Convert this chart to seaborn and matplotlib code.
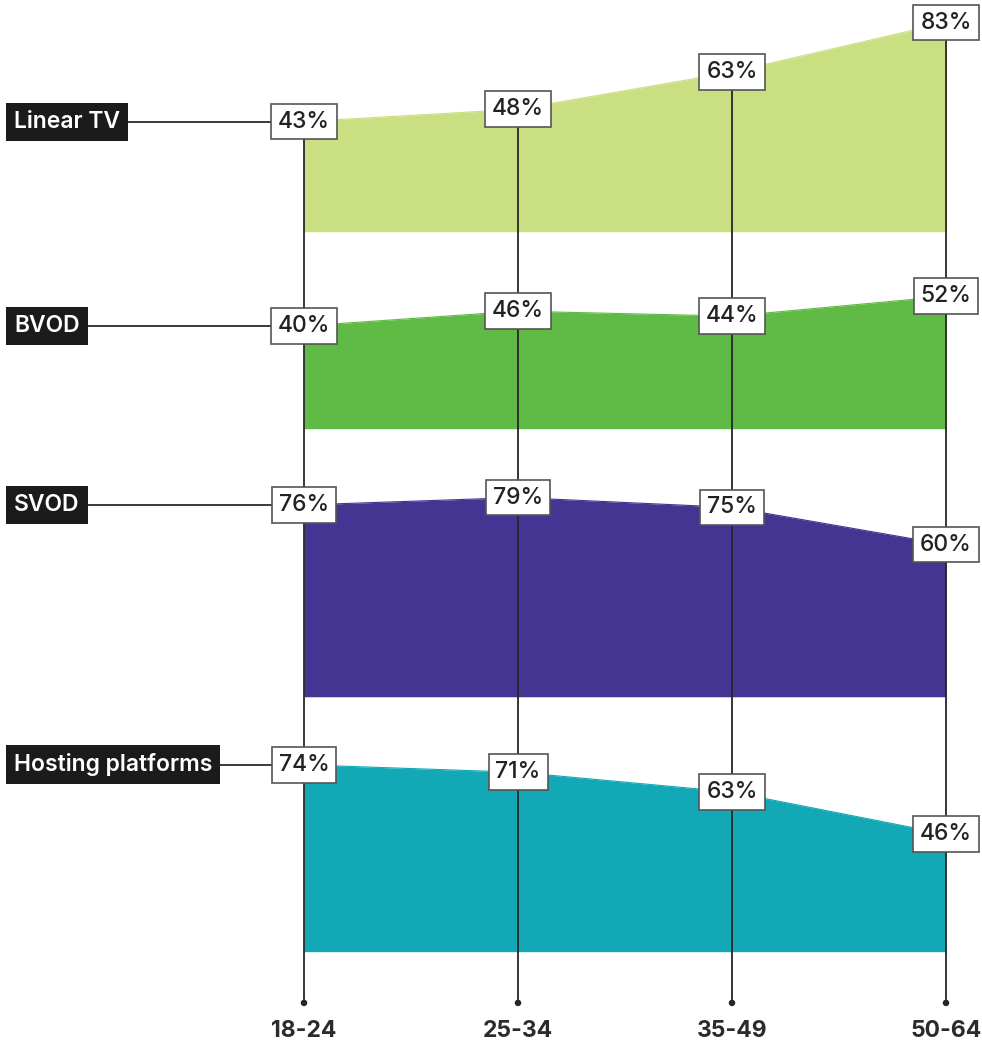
import matplotlib
matplotlib.use("Agg")
import matplotlib.pyplot as plt
import seaborn as sns
import pandas as pd

sns.set_theme(style="white")
plt.rcParams["font.family"] = ["Inter", "DejaVu Sans"]

# Age groups and share of viewers using each service
age_groups = ["18-24", "25-34", "35-49", "50-64"]
services = ["Linear TV", "BVOD", "SVOD", "Hosting platforms"]
linear_tv = [43, 48, 63, 83]
bvod = [40, 46, 44, 52]
svod = [76, 79, 75, 60]
hosting = [74, 71, 63, 46]
colors = ["#cadf82", "#5fba46", "#443592", "#12a8b5"]

series = [linear_tv, bvod, svod, hosting]

# Layout: vertical baseline of each band (in percentage-point units)
band_base = [330.1, 250.5, 142.2, 39.2]
band_pad = 1.5
line_bottom = 17.0
label_y = 5.8

W, H = 982, 1045
fig = plt.figure(figsize=(W / 100, H / 100), dpi=100)
ax = fig.add_axes([0, 0, 1, 1])
px_per_x = 214.0
x0_px = 304.0
px_per_y = 2.475
ax.set_xlim(-x0_px / px_per_x, (W - x0_px) / px_per_x)
ax.set_ylim(0, H / px_per_y)
ax.axis("off")

xs = list(range(len(age_groups)))

rows = []
for name, vals, base in zip(services, series, band_base):
    for i, (g, v) in enumerate(zip(age_groups, vals)):
        rows.append({"service": name, "age": g, "x": i, "value": v, "y": base + v})
df = pd.DataFrame(rows)

# Filled bands
for name, color, base in zip(services, colors, band_base):
    d = df[df.service == name]
    ax.fill_between(d["x"], base - band_pad, d["y"], color=color, lw=0, zorder=1)
    sns.lineplot(data=d, x="x", y="y", color=color, lw=0.8, ax=ax, zorder=1,
                 legend=False)

# Vertical guide lines through every age group
top_vals = df[df.service == services[0]].sort_values("x")
for xi, ytop in zip(top_vals["x"], top_vals["y"]):
    ax.plot([xi, xi], [line_bottom, ytop], color="#262626", lw=1.3, zorder=3)
sns.scatterplot(x=xs, y=[line_bottom] * len(xs), color="#262626", s=22,
                edgecolor="none", ax=ax, zorder=4, legend=False)

# Age-group labels along the bottom
for xi, g in zip(xs, age_groups):
    ax.text(xi, label_y, g, ha="center", va="center", fontsize=16.5,
            fontweight="bold", color="#2b2b2b")

# Value boxes
for _, r in df.iterrows():
    ax.text(r["x"], r["y"], f"{r['value']}%", ha="center", va="center",
            fontsize=16.5, fontweight="medium", color="#222222", zorder=6,
            bbox=dict(boxstyle="square,pad=0.3", fc="white", ec="#555555",
                      lw=1.2))

# Service name tags with connector to first value
left_x = (14 - x0_px) / px_per_x
for name, vals, base in zip(services, series, band_base):
    yv = base + vals[0]
    ax.plot([left_x + 0.3, 0], [yv, yv], color="#2b2b2b", lw=1.3, zorder=2)
    ax.text(left_x, yv, name, ha="left", va="center", fontsize=16.5,
            fontweight="semibold", color="white", zorder=6,
            bbox=dict(boxstyle="square,pad=0.35", fc="#1c1a1a", ec="none"))

fig.savefig("out.png", dpi=100)
